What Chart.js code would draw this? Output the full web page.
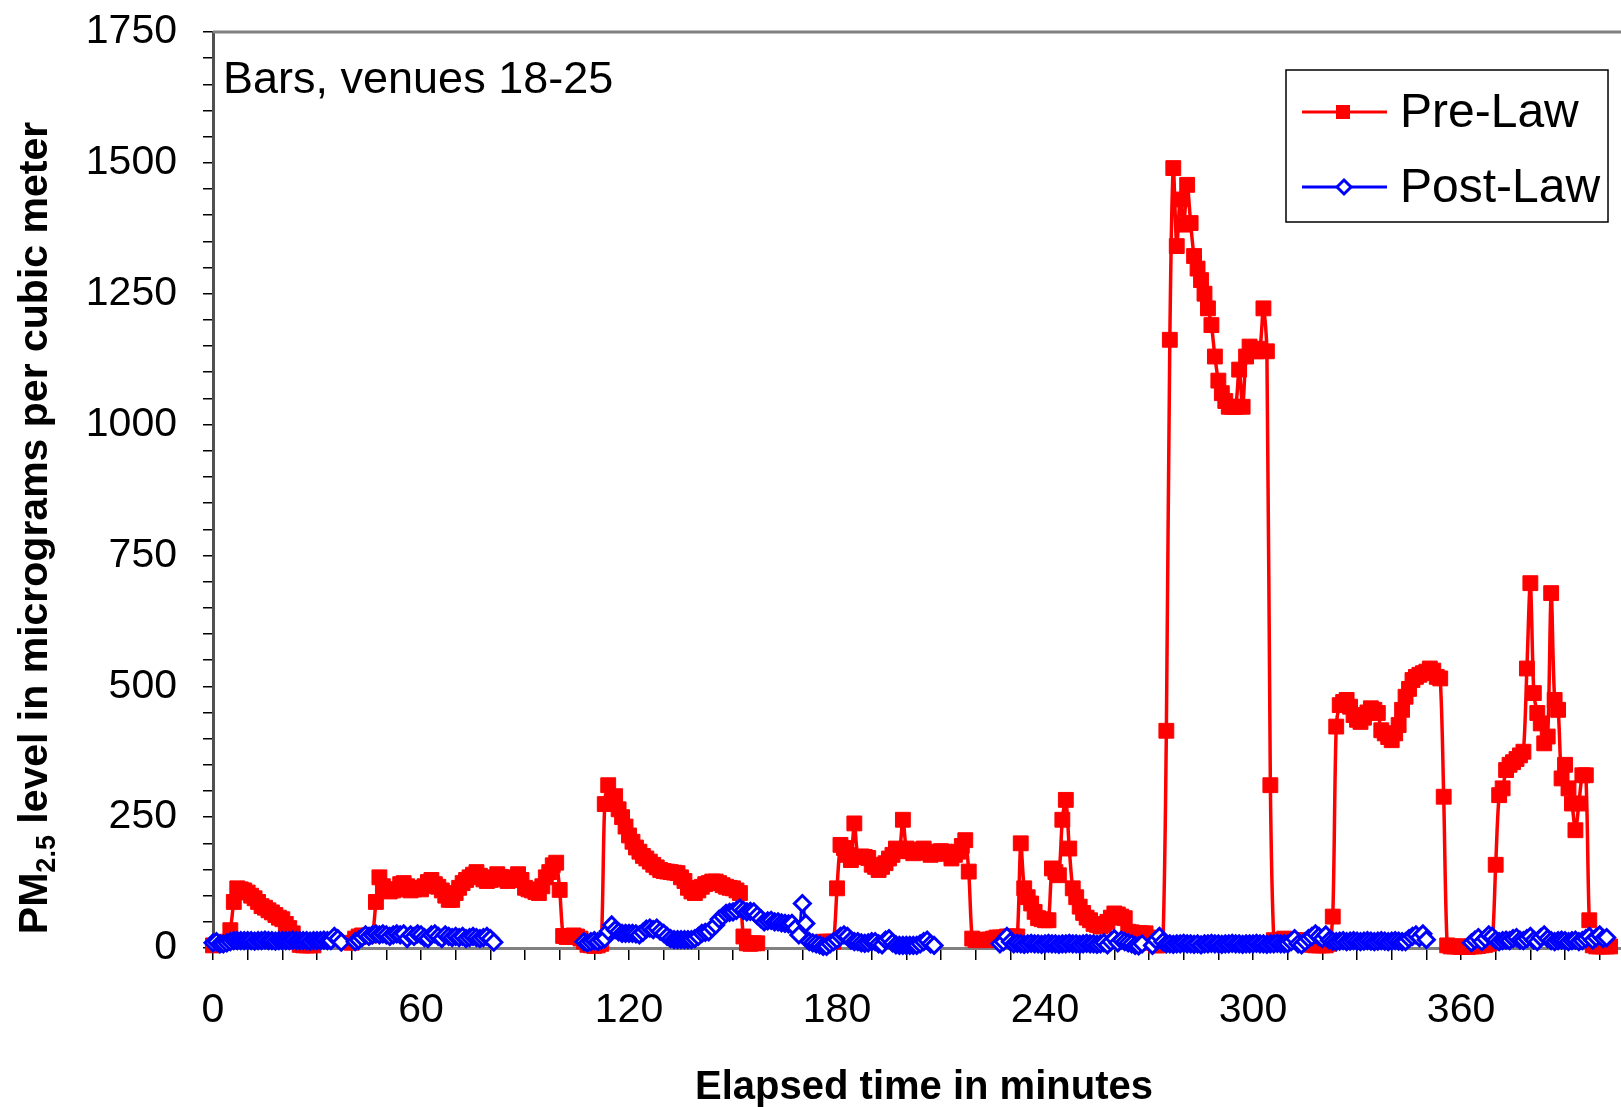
<!DOCTYPE html>
<html>
<head>
<meta charset="utf-8">
<script src="https://cdn.jsdelivr.net/npm/chart.js@4.4.1/dist/chart.umd.min.js"></script>
<style>
  html, body { margin: 0; padding: 0; background: #fff; overflow: hidden; width: 1621px; height: 1107px; }
  canvas { display: block; }
</style>
</head>
<body>
<canvas id="chart" width="1632" height="1107"></canvas>
<script>
// PM2.5 readings, one per elapsed minute (null = no reading)
const preLaw = [
  5, 6, 8, 10, 12, 34, 88, 114, 112, 110,
  106, 100, 95, 88, 80, 77, 72, 68, 63, 58,
  55, 46, 38, 28, 12, 6, 5, 5, 5, 5,
  null, null, null, null, null, null, null, null, null, null,
  10, 18, 22, 24, 22, 24, 25, 88, 135, 118,
  112, 108, 110, 112, 122, 124, 118, 110, 112, 115,
  112, 118, 126, 130, 122, 117, 110, 100, 92, 92,
  105, 115, 124, 130, 135, 140, 145, 138, 131, 128,
  130, 135, 141, 136, 131, 128, 130, 135, 141, 130,
  115, 112, 110, 107, 105, 118, 135, 145, 158, 163,
  111, 23, 21, 22, 24, 22, 18, 12, 6, 5,
  4, 5, 8, 275, 311, 280, 290, 265, 250, 232,
  215, 203, 192, 184, 176, 171, 165, 159, 154, 149,
  147, 146, 145, 144, 143, 135, 128, 115, 108, 105,
  110, 117, 122, 124, 127, 127, 124, 120, 117, 115,
  114, 110, 105, 22, 9, 8, 9, 9, null, null,
  null, null, null, null, null, null, null, null, null, null,
  null, null, null, null, null, 10, 12, 12, 12, 12,
  114, 197, 191, 178, 168, 238, 174, 175, 174, 172,
  159, 155, 149, 155, 162, 171, 178, 190, 185, 245,
  190, 185, 181, 185, 188, 190, 182, 178, 180, 184,
  185, 184, 180, 171, 178, 184, 195, 206, 146, 18,
  15, 15, 16, 15, 16, 18, 20, 20, 20, 22,
  22, 22, 22, 200, 114, 97, 85, 69, 57, 55,
  53, 53, 152, 145, 139, 245, 283, 190, 114, 97,
  79, 67, 58, 53, 46, 44, 41, 44, 50, 58,
  66, 64, 60, 57, 31, 30, 28, 28, 28, 28,
  20, 10, 5, 5, 8, 415, 1162, 1490, 1341, 1430,
  1382, 1458, 1385, 1322, 1298, 1276, 1250, 1222, 1190, 1130,
  1084, 1060, 1045, 1034, 1034, 1034, 1105, 1034, 1130, 1149,
  1140, 1140, 1145, 1222, 1140, 311, 15, 12, 15, 18,
  15, 15, 15, 15, 12, 10, 8, 6, 5, 5,
  5, 5, 8, 60, 423, 464, 470, 474, 461, 445,
  436, 432, 440, 450, 458, 455, 449, 416, 410, 403,
  397, 410, 426, 455, 480, 495, 512, 518, 522, 525,
  528, 534, 530, 518, 515, 289, 5, 3, 3, 3,
  2, 3, 2, 3, 3, 4, 5, 6, 8, 10,
  159, 292, 305, 340, 350, 355, 361, 368, 375, 534,
  697, 487, 449, 429, 391, 404, 678, 474, 455, 324,
  350, 305, 276, 225, 276, 330, 330, 53, 5, 3,
  3, 3, 3, 3
];

const postLaw = [
  10, 12, 8, 8, 10, 12, 14, 14, 14, 14,
  14, 14, 13, 14, 14, 15, 14, 14, 13, 14,
  14, 14, 14, 15, 14, 14, 14, 14, 13, 14,
  14, 14, 15, 14, 14, 22, 18, 11, null, null,
  null, 12, 15, 20, 25, 22, 25, 27, 25, 27,
  25, 22, 25, 27, 25, 27, 18, 25, 22, 27,
  25, 20, 18, 25, 27, 22, 18, 25, 22, 20,
  22, 20, 22, 18, 20, 22, 20, 18, 20, 22,
  18, 11, null, null, null, null, null, null, null, null,
  null, null, null, null, null, null, null, null, null, null,
  null, null, null, null, null, null, null, 12, 10, 12,
  14, 12, 15, 18, 32, 44, 35, 31, 28, 28,
  28, 28, 27, 25, 30, 36, 38, 35, 38, 32,
  28, 22, 18, 16, 16, 16, 16, 16, 16, 18,
  22, 28, 30, 31, 38, 44, 55, 60, 66, 68,
  69, 72, 76, 72, 69, 70, 69, 62, 56, 50,
  52, 53, 50, 50, 48, 47, 46, 47, 38, 25,
  85, 47, 12, 10, 8, 6, 3, 3, 8, 12,
  16, 22, 25, 22, 15, 12, 12, 10, 9, 10,
  12, 12, 8, 6, 15, 18, 10, 6, 5, 5,
  5, 5, 5, 5, 8, 12, 15, 8, 5, null,
  null, null, null, null, null, null, null, null, null, null,
  null, null, null, null, null, null, null, 8, 12, 22,
  12, 8, 9, 8, 7, 8, 9, 8, 8, 7,
  8, 9, 8, 8, 7, 8, 8, 9, 8, 8,
  7, 8, 9, 8, 8, 7, 8, 10, 6, 12,
  18, 10, 15, 12, 10, 8, 5, 4, 8, null,
  null, 5, 15, 22, 12, 8, 8, 7, 8, 8,
  9, 8, 8, 7, 8, 6, 8, 8, 9, 8,
  8, 7, 8, 8, 9, 8, 8, 7, 8, 8,
  8, 9, 8, 8, 7, 8, 8, 9, 8, 8,
  8, 12, 18, 8, 6, 12, 18, 22, 27, 22,
  18, 25, 15, 13, 12, 13, 14, 12, 13, 14,
  13, 12, 13, 14, 13, 12, 13, 14, 13, 12,
  13, 14, 13, 12, 12, 18, 22, 25, 20, 27,
  16, null, null, null, null, null, null, null, null, null,
  null, null, null, 10, 15, 20, 12, 18, 25, 22,
  15, 12, 14, 15, 14, 18, 20, 15, 14, 18,
  22, 15, 12, 20, 25, 18, 14, 12, 14, 15,
  14, 12, 14, 15, 12, 14, 18, 22, 15, 20,
  25, 18, 20
];

const seriesNames = ["Pre-Law", "Post-Law"];
const xTickLabels = [0, 60, 120, 180, 240, 300, 360];
const yTickLabels = [0, 250, 500, 750, 1000, 1250, 1500, 1750];
const panelLabel = "Bars, venues 18-25";
const xTitle = "Elapsed time in minutes";
const yTitle = ["PM", "2.5", " level in micrograms per cubic meter"];

const FONT = '"Liberation Sans", Arial, Helvetica, sans-serif';
const RED = "#ff0000";
const BLUE = "#0000ff";

function toPoints(arr) {
  return arr.map((v, i) => ({ x: i, y: v }));
}

function drawSquare(ctx, x, y, s) {
  ctx.fillStyle = RED;
  ctx.fillRect(x - s / 2, y - s / 2, s, s);
}

function drawDiamond(ctx, x, y, r) {
  ctx.beginPath();
  ctx.moveTo(x, y - r);
  ctx.lineTo(x + r, y);
  ctx.lineTo(x, y + r);
  ctx.lineTo(x - r, y);
  ctx.closePath();
  ctx.fillStyle = "#fff";
  ctx.fill();
  ctx.lineWidth = 3;
  ctx.strokeStyle = BLUE;
  ctx.stroke();
}

// frame top, panel label, legend and axis titles
const decor = {
  id: "decor",
  afterDraw(chart) {
    const ctx = chart.ctx;
    const a = chart.chartArea;
    ctx.save();

    ctx.strokeStyle = "#808080";
    ctx.lineWidth = 3;
    ctx.beginPath();
    ctx.moveTo(a.left, a.top);
    ctx.lineTo(1632, a.top);
    ctx.stroke();

    ctx.fillStyle = "#000";
    ctx.textAlign = "left";
    ctx.textBaseline = "alphabetic";
    ctx.font = "45px " + FONT;
    ctx.fillText(panelLabel, a.left + 10, a.top + 61);

    // legend
    const lx = 1286, ly = a.top + 38, lw = 322, lh = 152;
    ctx.fillStyle = "#fff";
    ctx.fillRect(lx, ly, lw, lh);
    ctx.strokeStyle = "#000";
    ctx.lineWidth = 1.5;
    ctx.strokeRect(lx, ly, lw, lh);
    const rows = [ly + 42, ly + 117];
    ctx.lineWidth = 3;
    ctx.strokeStyle = RED;
    ctx.beginPath();
    ctx.moveTo(lx + 16, rows[0]);
    ctx.lineTo(lx + 101, rows[0]);
    ctx.stroke();
    drawSquare(ctx, lx + 57, rows[0], 14);
    ctx.strokeStyle = BLUE;
    ctx.lineWidth = 3;
    ctx.beginPath();
    ctx.moveTo(lx + 16, rows[1]);
    ctx.lineTo(lx + 101, rows[1]);
    ctx.stroke();
    drawDiamond(ctx, lx + 58, rows[1], 7);
    ctx.fillStyle = "#000";
    ctx.font = "48px " + FONT;
    ctx.textBaseline = "middle";
    ctx.fillText(seriesNames[0], lx + 114, rows[0] + 2);
    ctx.fillText(seriesNames[1], lx + 114, rows[1] + 2);

    // x title
    ctx.textAlign = "center";
    ctx.textBaseline = "alphabetic";
    ctx.font = "bold 40px " + FONT;
    ctx.fillText(xTitle, 924, 1099);

    // y title with subscript
    ctx.font = "bold 41px " + FONT;
    const w1 = ctx.measureText(yTitle[0]).width;
    const w3 = ctx.measureText(yTitle[2]).width;
    ctx.font = "bold 27px " + FONT;
    const w2 = ctx.measureText(yTitle[1]).width;
    const total = w1 + w2 + w3;
    ctx.translate(47, 528 + total / 2);
    ctx.rotate(-Math.PI / 2);
    ctx.textAlign = "left";
    ctx.font = "bold 41px " + FONT;
    ctx.fillText(yTitle[0], 0, 0);
    ctx.font = "bold 27px " + FONT;
    ctx.fillText(yTitle[1], w1, 8);
    ctx.font = "bold 41px " + FONT;
    ctx.fillText(yTitle[2], w1 + w2, 0);

    ctx.restore();
  }
};

Chart.defaults.font.family = FONT;
Chart.defaults.color = "#000";

new Chart(document.getElementById("chart"), {
  type: "line",
  data: {
    datasets: [
      {
        label: seriesNames[0],
        data: toPoints(preLaw),
        order: 2,
        borderColor: RED,
        borderWidth: 3.5,
        pointStyle: "rect",
        pointRadius: 10.5,
        pointBackgroundColor: RED,
        pointBorderColor: RED,
        pointBorderWidth: 1,
        tension: 0.3,
        spanGaps: false,
        clip: false
      },
      {
        label: seriesNames[1],
        data: toPoints(postLaw),
        order: 1,
        borderColor: BLUE,
        borderWidth: 3,
        pointStyle: "rectRot",
        pointRadius: 8,
        pointBackgroundColor: "#fff",
        pointBorderColor: BLUE,
        pointBorderWidth: 3,
        tension: 0.3,
        spanGaps: false,
        clip: false
      }
    ]
  },
  options: {
    responsive: false,
    animation: false,
    devicePixelRatio: 1,
    layout: { padding: { top: 32, right: 0, left: 0, bottom: 0 } },
    plugins: {
      legend: { display: false },
      tooltip: { enabled: false }
    },
    scales: {
      x: {
        type: "linear",
        min: 0,
        max: 406,
        afterFit(scale) {
          scale.height = 159;
          scale.paddingLeft = 0;
          scale.paddingRight = 0;
        },
        ticks: {
          stepSize: 10,
          autoSkip: false,
          includeBounds: false,
          maxRotation: 0,
          padding: 26,
          font: { size: 41 },
          callback: v => xTickLabels.includes(v) ? String(v) : ""
        },
        grid: {
          drawOnChartArea: false,
          drawTicks: true,
          tickLength: 12,
          color: "#000",
          lineWidth: 1.5
        },
        border: { display: true, color: "#808080", width: 3 }
      },
      y: {
        min: 0,
        max: 1750,
        afterFit(scale) {
          scale.width = 213;
          scale.paddingTop = 0;
          scale.paddingBottom = 0;
        },
        ticks: {
          stepSize: 50,
          autoSkip: false,
          padding: 26,
          font: { size: 41 },
          callback: v => yTickLabels.includes(v) ? String(v) : ""
        },
        grid: {
          drawOnChartArea: false,
          drawTicks: true,
          tickLength: 10,
          color: "#000",
          lineWidth: 1.5
        },
        border: { display: true, color: "#505050", width: 3 }
      }
    }
  },
  plugins: [decor]
});
</script>
</body>
</html>
